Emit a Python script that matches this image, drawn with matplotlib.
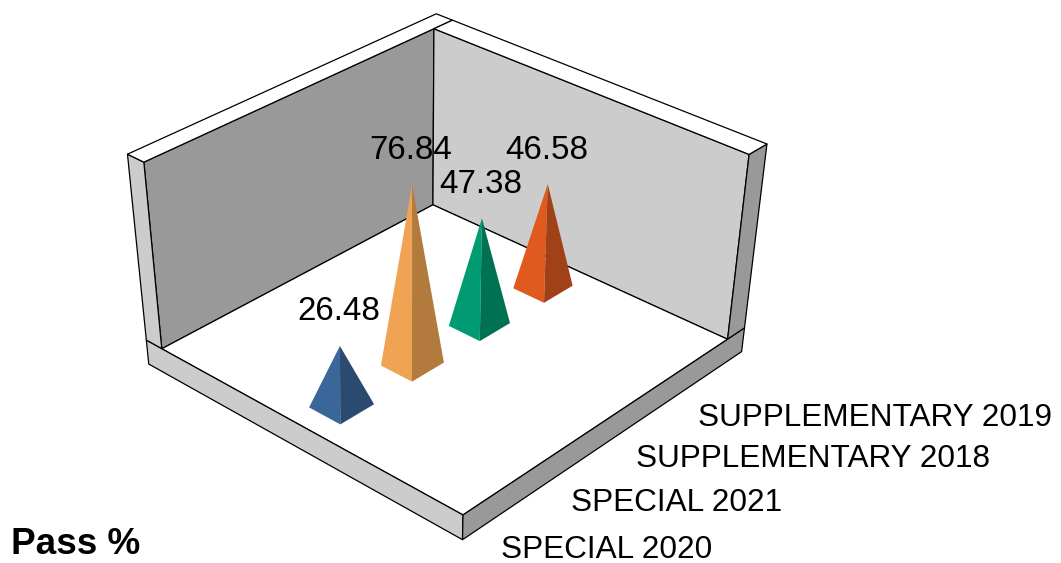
import numpy as np
import matplotlib
matplotlib.use('Agg')
import matplotlib.pyplot as plt
from matplotlib.patches import Polygon

plt.rcParams['font.family'] = ['Liberation Sans', 'DejaVu Sans']

# data
categories = ['SPECIAL 2020', 'SPECIAL 2021', 'SUPPLEMENTARY 2018', 'SUPPLEMENTARY 2019']
pass_pct = [26.48, 76.84, 47.38, 46.58]
colors_light = ['#3b6699', '#f0a353', '#009b72', '#e05a20']
colors_dark = ['#2b4a70', '#b27a3d', '#007254', '#a14117']
value_max = 80.0

# box shape in world units : x across, y along categories, z up
TX, TY, ZS = 0.057, 0.072, 0.138
HALF_X, HALF_Y = 0.052, 0.058
BAR_X = 0.5

# camera fit : world point -> pixel seen in the reference
world = [(0, 0, 0), (1, 0, 0), (1, 1, 0), (0, 1, 0), (0, 0, 1), (0, 1, 1), (1, 1, 1),
         (-TX, 0, 1), (-TX, 0, 0), (-TX, 1 + TY, 1), (0, 1 + TY, 1), (1, 1 + TY, 1),
         (1, 1 + TY, 0), (-TX, 0, -ZS), (1, 0, -ZS), (1, 1 + TY, -ZS)]
pixel = [(163, 348), (463, 514), (726, 339), (433, 205), (145, 163), (433, 30), (748, 155),
         (126, 154), (146, 339), (435, 13), (455, 20), (768, 143),
         (745, 327), (148, 365), (463, 541), (742, 353)]

rows, rhs = [], []
for (X, Y, Z), (u, v) in zip(world, pixel):
    rows.append([X, Y, Z, 1, 0, 0, 0, 0, -u * X, -u * Y, -u * Z])
    rows.append([0, 0, 0, 0, X, Y, Z, 1, -v * X, -v * Y, -v * Z])
    rhs += [u, v]
cam = np.append(np.linalg.lstsq(np.array(rows, float), np.array(rhs, float), rcond=None)[0], 1).reshape(3, 4)


def project(x, y, z):
    p = cam @ np.array([x, y, z, 1.0])
    return p[0] / p[2], p[1] / p[2]


fig = plt.figure(figsize=(10.61, 5.63), dpi=100)
ax = fig.add_axes([0, 0, 1, 1])
ax.set_xlim(0, 1061)
ax.set_ylim(563, 0)
ax.axis('off')


def face(points, color, edge='black'):
    ax.add_patch(Polygon([project(*p) for p in points], closed=True, facecolor=color,
                         edgecolor=edge, linewidth=0.9, joinstyle='round'))


LIGHT, DARK = '#cccccc', '#999999'
ytop = 1 + TY
# walls
face([(0, 0, 0), (0, 1, 0), (0, 1, 1), (0, 0, 1)], DARK)
face([(0, 1, 0), (1, 1, 0), (1, 1, 1), (0, 1, 1)], LIGHT)
face([(-TX, 0, 0), (0, 0, 0), (0, 0, 1), (-TX, 0, 1)], LIGHT)
face([(1, 1, 0), (1, ytop, 0), (1, ytop, 1), (1, 1, 1)], DARK)
face([(-TX, 0, 1), (-TX, ytop, 1), (0, ytop, 1), (0, 1, 1), (0, 0, 1)], 'white')
face([(0, 1, 1), (0, ytop, 1), (1, ytop, 1), (1, 1, 1)], 'white')
# floor slab
face([(0, 0, 0), (1, 0, 0), (1, 1, 0), (0, 1, 0)], 'white')
face([(-TX, 0, -ZS), (1, 0, -ZS), (1, 0, 0), (-TX, 0, 0)], LIGHT)
face([(1, 0, -ZS), (1, ytop, -ZS), (1, ytop, 0), (1, 0, 0)], DARK)

# pyramids, far ones first
ypos = [(i + 0.5) / len(pass_pct) for i in range(len(pass_pct))]
for i in reversed(range(len(pass_pct))):
    y = ypos[i]
    top = (BAR_X, y, pass_pct[i] / value_max)
    left = (BAR_X - HALF_X, y - HALF_Y, 0)
    front = (BAR_X + HALF_X, y - HALF_Y, 0)
    right = (BAR_X + HALF_X, y + HALF_Y, 0)
    face([left, front, top], colors_light[i], edge='none')
    face([front, right, top], colors_dark[i], edge='none')

for i, val in enumerate(pass_pct):
    ax.annotate('%.2f' % val, project(BAR_X, ypos[i], val / value_max), xytext=(-1, 24.5),
                textcoords='offset points', ha='center', va='center', fontsize=23.9)
    ax.annotate(categories[i], project(1, ypos[i], -ZS), xytext=(2, -25),
                textcoords='offset points', ha='left', va='center', fontsize=22.7)

ax.text(11, 545, 'Pass %', fontsize=26.6, fontweight='bold', ha='left', va='center')

fig.savefig('out.png', dpi=100)
